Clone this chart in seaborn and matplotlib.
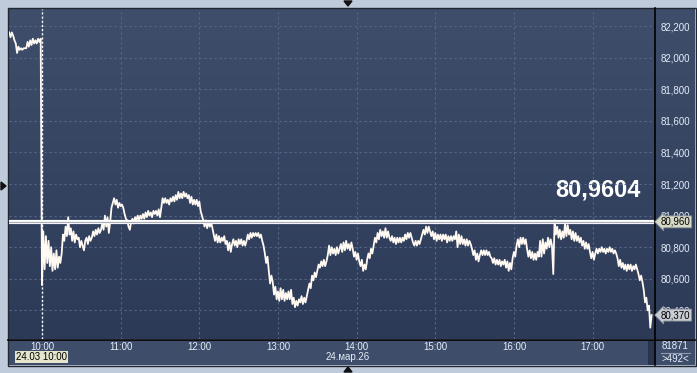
import numpy as np
import pandas as pd
import matplotlib
matplotlib.use("Agg")
import matplotlib.pyplot as plt
import matplotlib.dates as mdates
from matplotlib.patches import Rectangle, Polygon
from matplotlib.colors import LinearSegmentedColormap
from matplotlib.ticker import FixedLocator, FuncFormatter
import seaborn as sns

# ---------------- data (1-minute closes) ----------------
session_date = "2026-03-24"
pre_start = "09:35"
pre_prices = [82.16, 82.13, 82.16, 82.14, 82.11, 82.09, 82.03, 82.07, 82.05, 82.06,
              82.05, 82.06, 82.06, 82.06, 82.10, 82.07, 82.11, 82.08, 82.12, 82.09,
              82.11, 82.09, 82.12, 82.10, 82.12]
h10 = [80.56, 80.90, 80.66, 80.87, 80.70, 80.84, 80.68, 80.80, 80.65, 80.76,
       80.66, 80.78, 80.67, 80.74, 80.70, 80.76, 80.88, 80.84, 80.93, 80.87,
       80.99, 80.88, 80.92, 80.84, 80.90, 80.83, 80.88, 80.85, 80.86, 80.80,
       80.84, 80.81, 80.78, 80.84, 80.86, 80.82, 80.87, 80.84, 80.86, 80.90,
       80.87, 80.91, 80.88, 80.92, 80.89, 80.91, 80.95, 80.91, 81.00, 80.93,
       80.99, 80.89, 80.96, 81.05, 81.08, 81.11, 81.07, 81.10, 81.05, 81.08]
h11 = [81.06, 81.07, 81.05, 81.01, 80.98, 80.97, 80.93, 80.91, 80.96, 80.98,
       80.95, 80.99, 80.97, 81.00, 80.97, 81.00, 80.98, 81.01, 80.98, 81.02,
       80.99, 81.03, 81.00, 81.02, 80.99, 81.03, 81.01, 81.03, 81.00, 81.04,
       80.99, 81.05, 81.11, 81.08, 81.11, 81.08, 81.10, 81.07, 81.11, 81.09,
       81.12, 81.09, 81.13, 81.10, 81.15, 81.11, 81.14, 81.11, 81.15, 81.12,
       81.14, 81.11, 81.13, 81.08, 81.12, 81.07, 81.10, 81.07, 81.10, 81.06]
h12 = [81.09, 81.03, 81.00, 80.97, 80.93, 80.97, 80.92, 80.96, 80.93, 80.96,
       80.92, 80.88, 80.84, 80.88, 80.83, 80.87, 80.83, 80.86, 80.84, 80.87,
       80.82, 80.84, 80.78, 80.83, 80.77, 80.82, 80.85, 80.81, 80.84, 80.80,
       80.85, 80.82, 80.85, 80.81, 80.84, 80.81, 80.84, 80.88, 80.85, 80.89,
       80.86, 80.89, 80.87, 80.89, 80.87, 80.89, 80.86, 80.88, 80.84, 80.81,
       80.76, 80.70, 80.74, 80.65, 80.57, 80.62, 80.58, 80.50, 80.55, 80.47]
h13 = [80.52, 80.46, 80.54, 80.47, 80.53, 80.46, 80.51, 80.47, 80.52, 80.47,
       80.53, 80.44, 80.48, 80.42, 80.46, 80.43, 80.47, 80.45, 80.49, 80.44,
       80.48, 80.45, 80.49, 80.53, 80.57, 80.54, 80.62, 80.59, 80.64, 80.61,
       80.65, 80.69, 80.67, 80.71, 80.68, 80.72, 80.68, 80.71, 80.75, 80.81,
       80.75, 80.80, 80.76, 80.79, 80.75, 80.80, 80.76, 80.79, 80.82, 80.77,
       80.83, 80.78, 80.84, 80.79, 80.82, 80.78, 80.83, 80.79, 80.74, 80.77]
h14 = [80.72, 80.76, 80.71, 80.68, 80.72, 80.65, 80.69, 80.66, 80.72, 80.76,
       80.73, 80.79, 80.76, 80.81, 80.86, 80.83, 80.89, 80.85, 80.91, 80.87,
       80.90, 80.86, 80.92, 80.86, 80.90, 80.86, 80.84, 80.87, 80.83, 80.86,
       80.82, 80.86, 80.83, 80.86, 80.83, 80.86, 80.84, 80.88, 80.85, 80.89,
       80.86, 80.89, 80.86, 80.83, 80.81, 80.84, 80.81, 80.84, 80.82, 80.85,
       80.88, 80.91, 80.88, 80.93, 80.89, 80.93, 80.90, 80.87, 80.90, 80.85]
h15 = [80.89, 80.84, 80.88, 80.85, 80.88, 80.84, 80.88, 80.85, 80.88, 80.83,
       80.87, 80.84, 80.87, 80.84, 80.87, 80.85, 80.90, 80.80, 80.88, 80.82,
       80.87, 80.82, 80.85, 80.81, 80.85, 80.81, 80.84, 80.82, 80.79, 80.75,
       80.78, 80.72, 80.76, 80.71, 80.75, 80.78, 80.75, 80.78, 80.75, 80.78,
       80.75, 80.77, 80.74, 80.73, 80.70, 80.73, 80.69, 80.72, 80.69, 80.72,
       80.68, 80.71, 80.69, 80.72, 80.67, 80.71, 80.65, 80.70, 80.66, 80.73]
h16 = [80.77, 80.74, 80.81, 80.85, 80.80, 80.86, 80.82, 80.86, 80.82, 80.85,
       80.79, 80.74, 80.78, 80.73, 80.77, 80.72, 80.76, 80.72, 80.77, 80.74,
       80.84, 80.74, 80.85, 80.76, 80.83, 80.79, 80.86, 80.80, 80.85, 80.81,
       80.63, 80.97, 80.88, 80.93, 80.86, 80.91, 80.85, 80.90, 80.86, 80.95,
       80.87, 80.94, 80.88, 80.91, 80.85, 80.90, 80.84, 80.89, 80.84, 80.87,
       80.83, 80.86, 80.81, 80.84, 80.79, 80.83, 80.79, 80.82, 80.77, 80.73]
h17 = [80.77, 80.72, 80.76, 80.79, 80.76, 80.79, 80.77, 80.80, 80.77, 80.79,
       80.76, 80.79, 80.77, 80.80, 80.77, 80.79, 80.76, 80.78, 80.76, 80.73,
       80.68, 80.72, 80.67, 80.70, 80.66, 80.69, 80.65, 80.69, 80.66, 80.69,
       80.65, 80.68, 80.66, 80.69, 80.66, 80.63, 80.59, 80.62, 80.58, 80.53,
       80.45, 80.48, 80.40, 80.43, 80.29, 80.37]
hour_blocks = {"10:00": h10, "11:00": h11, "12:00": h12, "13:00": h13,
               "14:00": h14, "15:00": h15, "16:00": h16, "17:00": h17}

level_value = 80.9604
last_value = 80.370
y_ticks = [80.4, 80.6, 80.8, 81.0, 81.2, 81.4, 81.6, 81.8, 82.0, 82.2]
x_hours = ["10:00", "11:00", "12:00", "13:00", "14:00", "15:00", "16:00", "17:00"]
big_label = "80,9604"
level_label = "80,960"
last_label = "80,370"
date_box = "24.03 10:00"
date_label = "24.мар.26"
volume_label = "81871"
count_label = ">492<"

# ---------------- build frame ----------------
frames = [pd.DataFrame({"time": pd.date_range(f"{session_date} {pre_start}", periods=len(pre_prices), freq="min"),
                        "price": pre_prices})]
for start, vals in hour_blocks.items():
    frames.append(pd.DataFrame({"time": pd.date_range(f"{session_date} {start}", periods=len(vals), freq="min"),
                                "price": vals}))
df = pd.concat(frames, ignore_index=True)

# ---------------- figure ----------------
W, H = 697, 373
plt.rcParams["font.family"] = ["Liberation Sans", "DejaVu Sans"]
fig = plt.figure(figsize=(W / 100, H / 100), dpi=100)
fig.patch.set_facecolor("#bfcadb")

TXT = "#e6edf8"
FS = 7.0

bg = fig.add_axes([0, 0, 1, 1], zorder=0)
bg.set_xlim(0, W)
bg.set_ylim(H, 0)
bg.axis("off")

grad = np.linspace(0, 1, 256).reshape(-1, 1)
cmap = LinearSegmentedColormap.from_list("bg", ["#3e4e6b", "#2c3a57"])
bg.imshow(grad, cmap=cmap, extent=(8, 695, 339, 8), aspect="auto", zorder=0)
bg.add_patch(Rectangle((8, 339.5), 687, 25.5, facecolor="#3e4d6a", edgecolor="none", zorder=1))
bg.add_patch(Rectangle((7.5, 7.5), 688, 358, facecolor="none", edgecolor="#222832", lw=1, zorder=3))
bg.plot([654.5, 654.5], [8, 365], color="#000000", lw=1.2, zorder=3)
bg.plot([8, 695], [339.5, 339.5], color="#000000", lw=1.2, zorder=3)
bg.plot([661, 690], [352.5, 352.5], color="#8e9bb0", lw=0.8, zorder=3)
bg.add_patch(Rectangle((647.5, 341), 5, 23, facecolor="#2a3650", edgecolor="#25304a", lw=0.6, zorder=2))
# small navigation triangles
bg.add_patch(Polygon([[344, 1], [352, 1], [348, 6]], closed=True, color="#111111", zorder=4))
bg.add_patch(Polygon([[344, 372], [352, 372], [348, 367]], closed=True, color="#111111", zorder=4))
bg.add_patch(Polygon([[1, 182], [1, 190], [6, 186]], closed=True, color="#111111", zorder=4))

# bottom texts
bg.text(41.5, 357, date_box, ha="center", va="center", fontsize=FS, color="#000000", zorder=5,
        bbox=dict(boxstyle="square,pad=0.12", facecolor="#e6e6cc", edgecolor="none"))
bg.text(348, 357.5, date_label, ha="center", va="center", fontsize=FS, color=TXT, zorder=5)
bg.text(675, 346, volume_label, ha="center", va="center", fontsize=FS, color=TXT, zorder=5)
bg.text(675, 358.5, count_label, ha="center", va="center", fontsize=FS, color=TXT, zorder=5)
bg.text(641, 196, big_label, ha="right", va="baseline", fontsize=17, fontweight="bold",
        color="#ffffff", zorder=5)

# ---------------- main axes ----------------
ax = fig.add_axes([9 / W, 1 - 339 / H, 645 / W, 330 / H], zorder=1)
ax.set_facecolor("none")
for s in ax.spines.values():
    s.set_visible(False)

sns.lineplot(data=df, x="time", y="price", ax=ax, color="#fff9f2", lw=1.3,
             estimator=None, zorder=4)

ax.axhline(level_value, color="#ffffff", lw=3.0, zorder=5)
ax.axhline(level_value, color="#a9afbb", lw=0.9, zorder=6)
ax.axvline(pd.Timestamp(f"{session_date} 10:00"), color="#ffffff", lw=1.0,
           ls=(0, (1.5, 1.5)), zorder=3)

ax.set_xlim(pd.Timestamp(f"{session_date} 09:34:50"), pd.Timestamp(f"{session_date} 17:46:50"))
ax.set_ylim(80.2185, 82.3085)

xt = [mdates.date2num(pd.Timestamp(f"{session_date} {h}")) for h in x_hours]
ax.xaxis.set_major_locator(FixedLocator(xt))
ax.set_xticklabels(x_hours)
ax.yaxis.set_major_locator(FixedLocator(y_ticks))
ax.yaxis.set_major_formatter(FuncFormatter(lambda v, p: f"{v:.3f}".replace(".", ",")))
ax.yaxis.tick_right()
ax.tick_params(axis="y", length=0, pad=5.0, labelsize=FS, labelcolor=TXT)
ax.tick_params(axis="x", length=0, pad=2.4, labelsize=FS, labelcolor=TXT)
ax.set_xlabel("")
ax.set_ylabel("")
ax.grid(True, color="#56678a", lw=0.8, ls=(0, (2, 2.5)))
ax.set_axisbelow(True)

# price tags on the right scale
ax.annotate(level_label, xy=(1.0, level_value), xycoords=("axes fraction", "data"),
            xytext=(5.0, 0), textcoords="offset points", ha="left", va="center",
            fontsize=FS, color="#000000", annotation_clip=False, zorder=10,
            bbox=dict(boxstyle="larrow,pad=0.1", facecolor="#d6dac4", edgecolor="#8a9098", lw=0.6))
ax.annotate(last_label, xy=(1.0, last_value), xycoords=("axes fraction", "data"),
            xytext=(5.0, 0), textcoords="offset points", ha="left", va="center",
            fontsize=FS, color="#000000", annotation_clip=False, zorder=10,
            bbox=dict(boxstyle="larrow,pad=0.1", facecolor="#c9cdd3", edgecolor="#8a9098", lw=0.6))

fig.savefig("out.png", dpi=100, facecolor=fig.get_facecolor())
